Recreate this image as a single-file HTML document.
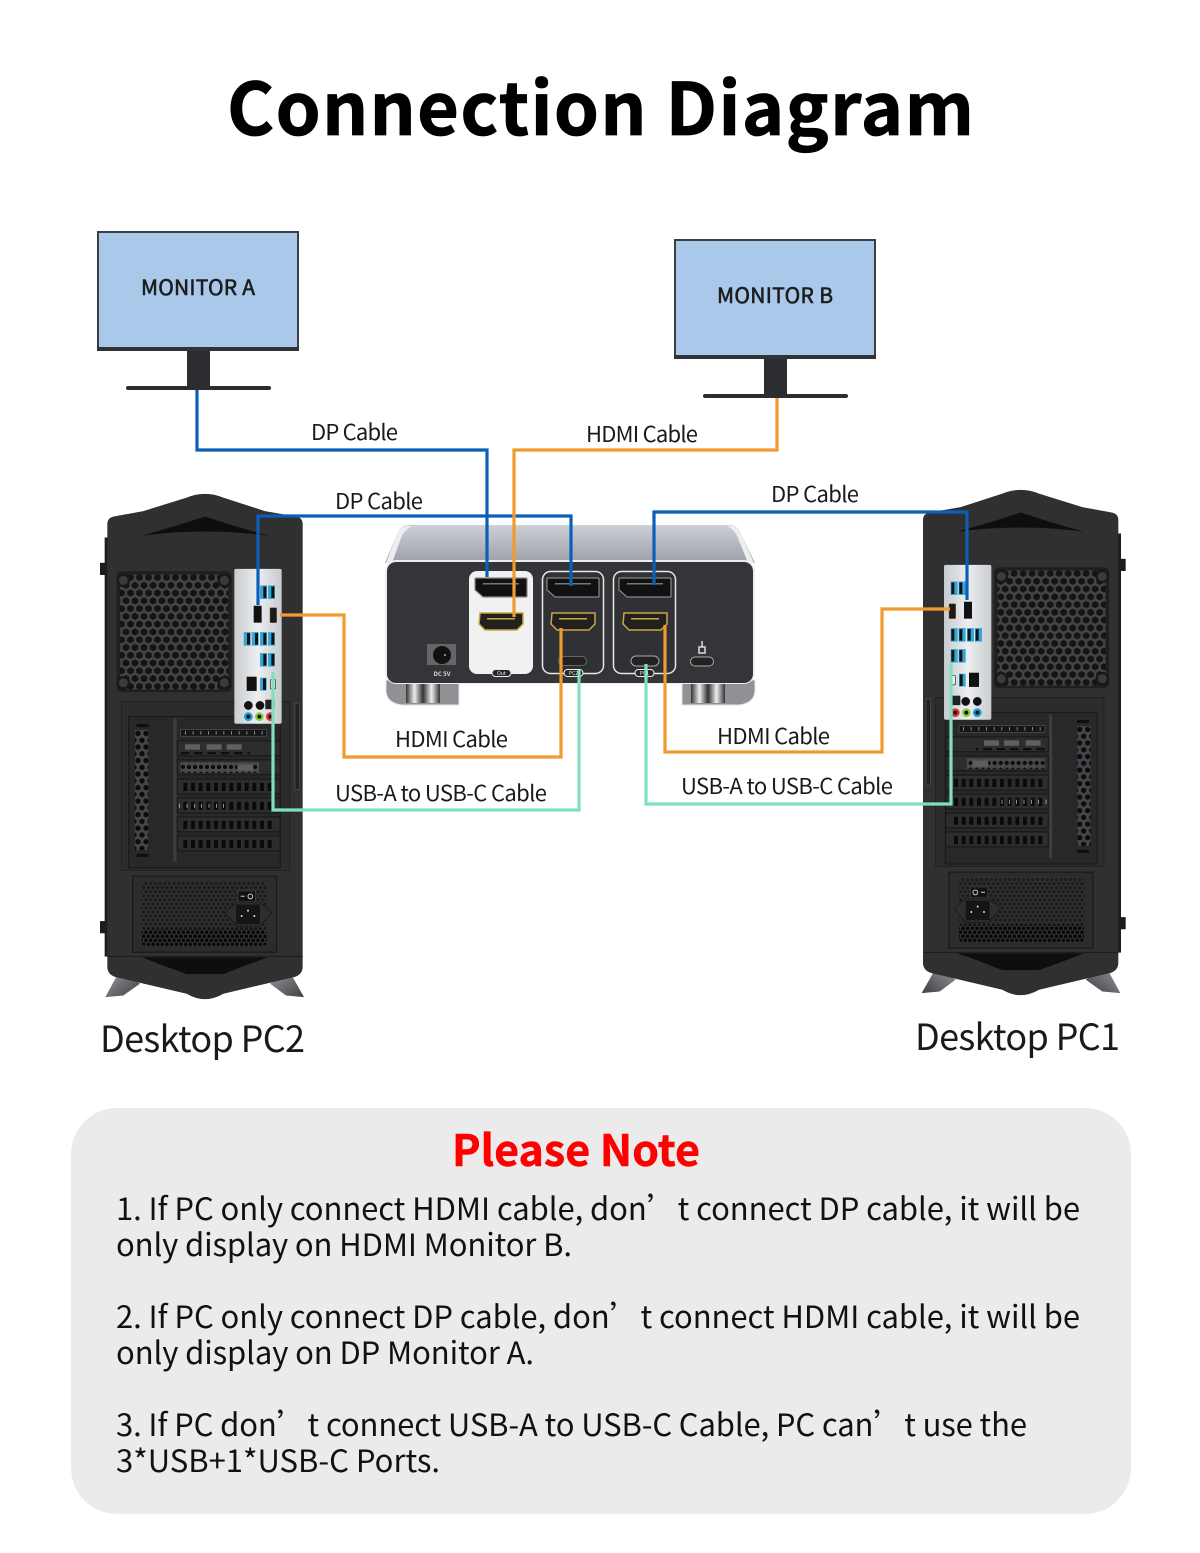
<!DOCTYPE html>
<html lang="zh"><head><meta charset="utf-8"><title>Connection Diagram</title>
<style>html,body{margin:0;padding:0;background:#fff}svg{display:block}
text{font-family:"Noto Sans CJK SC","Liberation Sans",sans-serif}</style></head><body>
<svg xmlns="http://www.w3.org/2000/svg" width="1200" height="1553" viewBox="0 0 1200 1553">
<defs>
<pattern id="hex" width="27" height="46" patternUnits="userSpaceOnUse"><rect width="27" height="46" fill="#454546"/>
<polygon points="13.5,1.500 23.500,7.500 23.500,17.500 13.500,23.500 3.500,17.500 3.500,7.500" fill="#141414"/>
<polygon points="0,24.500 10,30.500 10,40.500 0,46.500 -10,40.500 -10,30.500" fill="#141414"/><polygon points="27,24.500 37,30.500 37,40.500 27,46.500 17,40.500 17,30.500" fill="#141414"/></pattern>
<pattern id="psu" width="14" height="24" patternUnits="userSpaceOnUse"><rect width="14" height="24" fill="#303031"/><circle cx="7" cy="6" r="5" fill="#1b1b1c"/><circle cx="0" cy="18" r="5" fill="#1b1b1c"/><circle cx="14" cy="18" r="5" fill="#1b1b1c"/></pattern>
<pattern id="psu2" width="14" height="24" patternUnits="userSpaceOnUse"><rect width="14" height="24" fill="#3a3a3b"/><circle cx="7" cy="6" r="5.500" fill="#050505"/><circle cx="0" cy="18" r="5.500" fill="#050505"/><circle cx="14" cy="18" r="5.500" fill="#050505"/></pattern>
<pattern id="vent" width="24" height="40" patternUnits="userSpaceOnUse"><rect width="24" height="40" fill="#46464a"/><circle cx="12" cy="10" r="8" fill="#0c0c0c"/><circle cx="0" cy="30" r="8" fill="#0c0c0c"/><circle cx="24" cy="30" r="8" fill="#0c0c0c"/></pattern>
<pattern id="hole" width="18" height="20" patternUnits="userSpaceOnUse"><rect width="18" height="20" fill="#4a4a4c"/><polygon points="9,2 15,6 15,12 9,16 3,12 3,6" fill="#0c0c0c"/></pattern>
<linearGradient id="top" x1="0" y1="0" x2="0" y2="1"><stop offset="0" stop-color="#cdd0d6"/><stop offset="1" stop-color="#9c9fa6"/></linearGradient>
<linearGradient id="plate" x1="0" y1="0" x2="1" y2="0"><stop offset="0" stop-color="#c9ccd0"/><stop offset=".5" stop-color="#eceef0"/><stop offset="1" stop-color="#c7cacf"/></linearGradient>
<linearGradient id="foot" x1="0" y1="0" x2="1" y2="1"><stop offset="0" stop-color="#9a9c9f"/><stop offset="1" stop-color="#3d3f42"/></linearGradient>
<linearGradient id="chrome" x1="0" y1="0" x2="1" y2="0"><stop offset="0" stop-color="#333"/><stop offset=".25" stop-color="#eee"/><stop offset=".5" stop-color="#333"/><stop offset=".75" stop-color="#eee"/><stop offset="1" stop-color="#333"/></linearGradient>
<g id="usb2"><rect width="21" height="40" fill="#35a6d6"/><rect x="10" y="3" width="9" height="34" fill="#111"/><rect x="24" width="21" height="40" fill="#35a6d6"/><rect x="34" y="3" width="9" height="34" fill="#111"/></g>
<g id="tower">
<polygon points="90,1450 46,1530 100,1525 150,1490" fill="url(#foot)"/>
<polygon points="596,1450 642,1530 588,1525 540,1490" fill="url(#foot)"/>
<rect x="30" y="245" width="16" height="36" fill="#1c1c1c"/><rect x="30" y="1305" width="16" height="36" fill="#1c1c1c"/>
<rect x="44" y="170" width="20" height="1240" fill="#1d1d1e"/>
<path d="M52,130 Q52,112 72,108 L160,92 L290,52 Q345,30 400,52 L525,92 L618,108 Q638,112 638,130 L638,1440 Q638,1462 615,1470 L400,1520 Q345,1552 290,1520 L75,1470 Q52,1462 52,1440 Z" fill="#303031"/>
<path d="M155,165 L260,135 L345,108 L430,135 L535,165 Q345,140 155,165Z" fill="#0e0e0e"/>
<rect x="52" y="1408" width="586" height="3" fill="#1d1d1e"/>
<rect x="80" y="270" width="345" height="358" rx="14" fill="#1f1f20"/>
<rect x="90" y="280" width="325" height="340" rx="30" fill="url(#hex)"/>
<g fill="#3b3b3c" stroke="#181818" stroke-width="7"><circle cx="100" cy="297" r="17"/><circle cx="403" cy="297" r="17"/><circle cx="100" cy="600" r="17"/><circle cx="403" cy="600" r="17"/></g>
<rect x="95" y="655" width="505" height="500" fill="#2c2c2d" stroke="#1c1c1c" stroke-width="2"/>
<rect x="116" y="700" width="455" height="448" fill="#28282a" stroke="#171717" stroke-width="3"/>
<rect x="135" y="740" width="40" height="355" fill="url(#vent)"/>
<rect x="140" y="722" width="36" height="9" fill="#0e0e0e"/><rect x="140" y="1106" width="36" height="9" fill="#0e0e0e"/>
<rect x="250" y="705" width="10" height="425" fill="#3c3c3d"/>
<rect x="272" y="738" width="258" height="20" fill="#151515" stroke="#555" stroke-width="2"/>
<line x1="285" y1="748" x2="525" y2="748" stroke="#888" stroke-width="10" stroke-dasharray="3 20"/>
<rect x="262" y="772" width="308" height="44" fill="#2d2d2e" stroke="#161616" stroke-width="3"/>
<g fill="#606062"><rect x="285" y="782" width="45" height="16"/><rect x="350" y="782" width="45" height="16"/><rect x="410" y="782" width="45" height="16"/></g>
<line x1="272" y1="808" x2="480" y2="808" stroke="#0c0c0c" stroke-width="6" stroke-dasharray="26 14"/>
<rect x="262" y="828" width="308" height="44" fill="#2d2d2e" stroke="#161616" stroke-width="3"/>
<rect x="272" y="835" width="235" height="32" fill="url(#hole)"/><rect x="442" y="842" width="48" height="18" fill="#5d5d5f"/>
<g stroke="#161616" stroke-width="3" fill="#2d2d2e"><rect x="262" y="885" width="308" height="44"/><rect x="262" y="941" width="308" height="44"/><rect x="262" y="997" width="308" height="44"/><rect x="262" y="1053" width="308" height="44"/></g>
<g stroke="#0a0a0a" stroke-width="24" stroke-dasharray="12 11" fill="none"><line x1="280" y1="908" x2="548" y2="908"/><line x1="280" y1="964" x2="548" y2="964"/><line x1="280" y1="1020" x2="548" y2="1020"/><line x1="280" y1="1077" x2="548" y2="1077"/></g>
<g stroke="#cfcfcf" stroke-width="12" stroke-dasharray="2 20" fill="none"><line x1="268" y1="964" x2="420" y2="964"/></g>
<rect x="128" y="1172" width="432" height="225" fill="#2c2c2d" stroke="#151515" stroke-width="3"/>
<rect x="155" y="1188" width="375" height="145" rx="14" fill="url(#psu)"/>
<rect x="155" y="1328" width="375" height="50" rx="10" fill="url(#psu2)"/>
<path d="M405,1280 L440,1250 L510,1250 L545,1280 L510,1320 L440,1320Z" fill="#2e2e2f" stroke="#161616" stroke-width="2"/>
<rect x="438" y="1256" width="72" height="58" fill="#151515"/><circle cx="455" cy="1290" r="3" fill="#ddd"/><circle cx="474" cy="1274" r="3" fill="#ddd"/><circle cx="493" cy="1290" r="3" fill="#ddd"/>
<rect x="444" y="1216" width="52" height="32" fill="#111" stroke="#444" stroke-width="2"/><rect x="452" y="1230" width="12" height="3" fill="#ccc"/><circle cx="481" cy="1232" r="7" fill="none" stroke="#ccc" stroke-width="3"/>
<rect x="615" y="660" width="14" height="255" fill="#222" stroke="#555" stroke-width="2"/>
<path d="M155,1412 L535,1412 L470,1435 L400,1462 L290,1462 L215,1435Z" fill="#0e0e0e"/>
<rect x="433" y="263" width="142" height="458" rx="5" fill="url(#plate)"/>
<use href="#usb2" x="510" y="312"/>
<rect x="491" y="372" width="24" height="50" fill="#111"/>
<rect x="540" y="378" width="20" height="44" rx="2" fill="#1a1a1a" stroke="#8a5a2a" stroke-width="1.5"/>
<use href="#usb2" x="461" y="450"/><use href="#usb2" x="510" y="450"/>
<use href="#usb2" x="510" y="512"/>
<rect x="470" y="582" width="30" height="42" fill="#111"/>
<rect x="510" y="585" width="20" height="38" fill="#35a6d6"/><rect x="519" y="587" width="9" height="34" fill="#111"/>
<rect x="541" y="590" width="16" height="28" rx="3" fill="#eee" stroke="#222" stroke-width="2"/>
<circle cx="475" cy="667" r="13" fill="#111"/><circle cx="510" cy="667" r="13" fill="#111"/><rect x="526" y="650" width="28" height="28" fill="#222"/>
<circle cx="475" cy="700" r="13" fill="#1f9bd6"/><circle cx="475" cy="700" r="6" fill="#111"/>
<circle cx="508" cy="700" r="13" fill="#8ccc3a"/><circle cx="508" cy="700" r="6" fill="#111"/>
<circle cx="541" cy="700" r="13" fill="#d63a3a"/><circle cx="541" cy="700" r="6" fill="#111"/>
</g>
</defs>

<text x="227" y="135" font-size="72" font-weight="700" fill="#000" stroke="#000" stroke-width=".8" textLength="747">Connection Diagram</text>

<!-- Monitors -->
<g id="mon"><rect x="98" y="232" width="200" height="118" fill="#a9c8ea" stroke="#3a3f44" stroke-width="2"/><rect x="97" y="347" width="202" height="4" fill="#2f3236"/><rect x="187" y="351" width="23" height="36" fill="#2b2d30"/><rect x="126" y="386" width="145" height="4" rx="2" fill="#2b2d30"/></g>
<use href="#mon" x="577" y="8"/>
<text x="141" y="295" font-size="21" fill="#1c1c1c" stroke="#1c1c1c" stroke-width=".6" textLength="114">MONITOR A</text>
<text x="717" y="303" font-size="21" fill="#1c1c1c" stroke="#1c1c1c" stroke-width=".6" textLength="116">MONITOR B</text>

<!-- Towers -->
<use href="#tower" transform="translate(90,480) scale(.33333,.338)"/>
<use href="#tower" transform="translate(900,476) scale(.33333,.338) translate(707,0) scale(-1,1)"/>

<!-- KVM -->
<path d="M385,563 L398,532 Q401,525 409,525 H729 Q737,525 740,532 L755,563Z" fill="url(#top)"/>
<path d="M386,563 L398,532 Q401,526 407,526 L412,526 Q404,530 401,538 L392,563Z" fill="#eceef0"/><path d="M754,563 L740,532 Q737,526 731,526 L727,526 Q735,530 738,538 L748,563Z" fill="#eceef0"/>
<path d="M386,680 L459,680 L459,705 L402,705 Q386,703 386,690Z" fill="#8f9195" stroke="#e4e4e4" stroke-width="1"/>
<path d="M755,680 L682,680 L682,705 L739,705 Q755,703 755,690Z" fill="#8f9195" stroke="#e4e4e4" stroke-width="1"/>
<rect x="406" y="682" width="34" height="21" fill="url(#chrome)"/><rect x="691" y="682" width="34" height="21" fill="url(#chrome)"/>
<rect x="385" y="560" width="370" height="124" rx="11" fill="#eceef0"/>
<rect x="387" y="562" width="366" height="121" rx="9" fill="#343538"/>
<rect x="469" y="571" width="64" height="103" rx="8" fill="#f1f1f1"/>
<rect x="542.500" y="571.500" width="61" height="102" rx="8" fill="#303134" stroke="#e8e8e8" stroke-width="1.500"/>
<rect x="613.500" y="571.500" width="62" height="102" rx="8" fill="#303134" stroke="#e8e8e8" stroke-width="1.500"/>
<g id="dp"><path d="M476,578 H526 Q527,578 527,579 V596 Q527,597 526,597 H483 L475,590 V579 Q475,578 476,578Z" fill="#111" stroke="#888" stroke-width="1.200"/><rect x="483" y="583" width="36" height="1.500" fill="#777"/></g>
<use href="#dp" x="72"/><use href="#dp" x="144"/>
<g id="hd"><path d="M480,613 H523 V624 L517,630 H485 L479,624Z" fill="#23211d" stroke="#c9a64a" stroke-width="1.500"/><rect x="487" y="618" width="28" height="1.500" fill="#c9a64a"/></g>
<use href="#hd" x="72"/><use href="#hd" x="144"/>
<rect x="558.500" y="656.500" width="28" height="9" rx="4.500" fill="#222" stroke="#666"/>
<rect x="631" y="656" width="28" height="10" rx="5" fill="#222" stroke="#aaa"/>
<rect x="690.500" y="657" width="23" height="9" rx="4.500" fill="#222" stroke="#aaa"/>
<rect x="699" y="647" width="6" height="6" fill="none" stroke="#ddd" stroke-width="1.500"/><rect x="701.300" y="641" width="1.500" height="6" fill="#ddd"/>
<rect x="427" y="644" width="29" height="21" fill="#666668"/><circle cx="442" cy="655" r="9" fill="#111"/><circle cx="445" cy="655" r="1" fill="#aaa"/>
<text x="442" y="676" font-size="6" font-weight="700" fill="#ddd" text-anchor="middle">DC 5V</text>
<g fill="#26272a" stroke="#eee" stroke-width="1"><rect x="492" y="669.500" width="19" height="7" rx="3.500"/><rect x="564" y="669.500" width="19" height="7" rx="3.500"/><rect x="635" y="669.500" width="19" height="7" rx="3.500"/></g>
<g font-size="5" fill="#eee" text-anchor="middle"><text x="501.500" y="675">Out</text><text x="573.500" y="675">PC2</text><text x="644.500" y="675">PC1</text></g>

<!-- Cables -->
<g fill="none" stroke-width="3.200" stroke-linejoin="miter">
<path d="M197,390 V450 H487 V577" stroke="#0a5fb8"/>
<path d="M258,605 V516 H571 V586" stroke="#0a5fb8"/>
<path d="M654,585 V512 H967 V600" stroke="#0a5fb8"/>
<path d="M777,398 V450 H514 V617" stroke="#ef9b2d"/>
<path d="M280,615 H344 V757 H561 V628" stroke="#ef9b2d"/>
<path d="M950,609 H882 V752 H665 V625" stroke="#ef9b2d"/>
<path d="M273,672 V810 H579 V670" stroke="#7fe0bd"/>
<path d="M951,662 V804 H646 V664" stroke="#7fe0bd"/>
</g>

<!-- Labels -->
<g font-size="22" fill="#1a1a1a">
<text x="311" y="440" textLength="87">DP Cable</text>
<text x="586" y="442" textLength="112">HDMI Cable</text>
<text x="335" y="509" textLength="88">DP Cable</text>
<text x="771" y="502" textLength="88">DP Cable</text>
<text x="395" y="747" textLength="113">HDMI Cable</text>
<text x="717" y="744" textLength="113">HDMI Cable</text>
<text x="335" y="801" textLength="212">USB-A to USB-C Cable</text>
<text x="681" y="794" textLength="212">USB-A to USB-C Cable</text>
</g>
<text x="100" y="1052" font-size="36" fill="#1a1a1a" textLength="205">Desktop PC2</text>
<text x="915" y="1050" font-size="36" fill="#1a1a1a" textLength="205">Desktop PC1</text>

<!-- Note -->
<rect x="71" y="1108" width="1060" height="406" rx="46" fill="#ebebeb"/>
<text x="452" y="1166" font-size="43" font-weight="700" fill="#fe0000" stroke="#fe0000" stroke-width=".5" textLength="248">Please Note</text>
<g font-size="31" fill="#111">
<text x="116" y="1220" textLength="964">1. If PC only connect HDMI cable, don’t connect DP cable, it will be</text>
<text x="116" y="1256" textLength="456">only display on HDMI Monitor B.</text>
<text x="116" y="1328" textLength="964">2. If PC only connect DP cable, don’t connect HDMI cable, it will be</text>
<text x="116" y="1364" textLength="418">only display on DP Monitor A.</text>
<text x="116" y="1436" textLength="911">3. If PC don’t connect USB-A to USB-C Cable, PC can’t use the</text>
<text x="116" y="1472" textLength="324">3*USB+1*USB-C Ports.</text>
</g>
</svg>
</body></html>
